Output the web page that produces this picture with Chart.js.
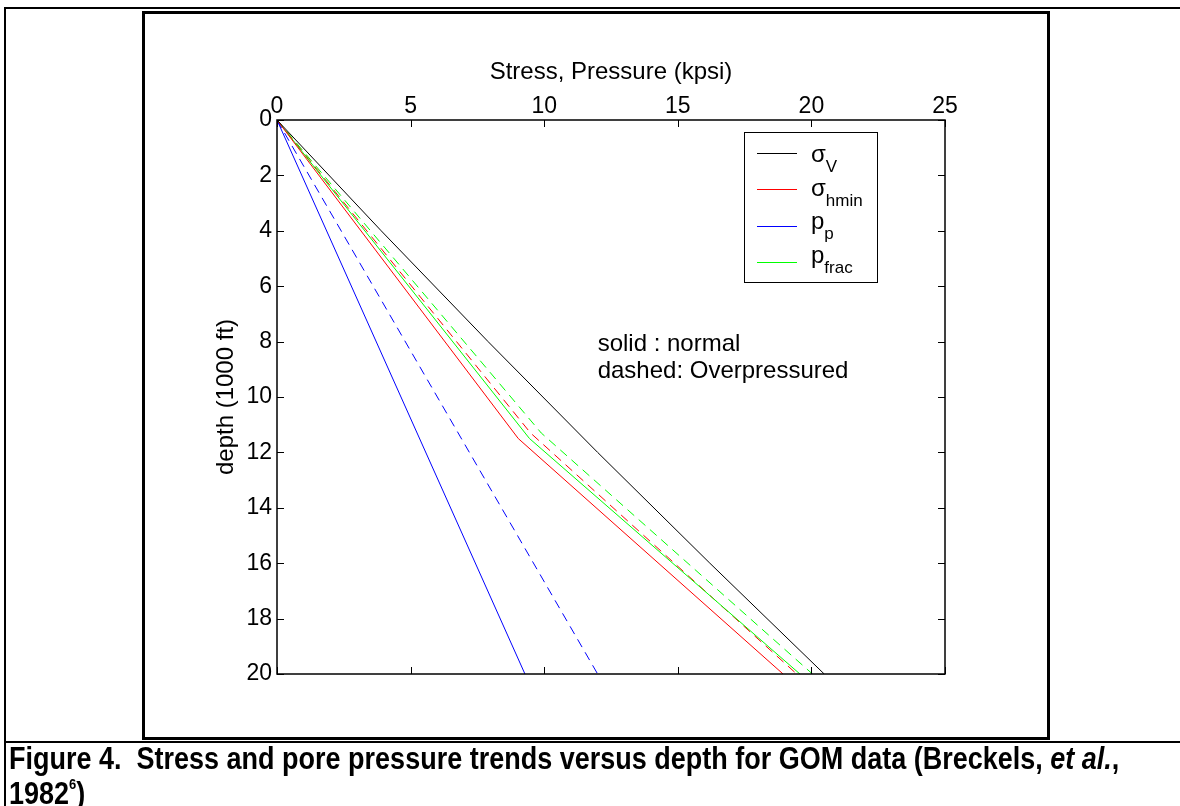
<!DOCTYPE html>
<html>
<head>
<meta charset="utf-8">
<title>Stress and pore pressure trends</title>
<script src="https://cdn.jsdelivr.net/npm/chart.js@4.4.1/dist/chart.umd.min.js"></script>
<style>
  body { margin: 0; background: #fff; font-family: "Liberation Sans", Arial, sans-serif; }
  #page { position: relative; width: 1180px; height: 806px; overflow: hidden; background: #fff; }
  .rule { position: absolute; background: #000; }
  #box { position: absolute; left: 142px; top: 11px; width: 908px; height: 729px; border: 3px solid #000; box-sizing: border-box; }
  #wrap { position: absolute; left: 0; top: 0; width: 1180px; height: 806px; }
  #caption { position: absolute; left: 9px; top: 745px; font-size: 27px; line-height: 25px; font-weight: bold; white-space: nowrap; color: #000; transform: scaleY(1.14); transform-origin: left top; }
  #caption sup { font-size: 13px; position: relative; top: -3px; }
</style>
</head>
<body>
<div id="page">
  <div class="rule" style="left:4px; top:7px; width:2px; height:799px;"></div>
  <div class="rule" style="left:4px; top:7px; width:1176px; height:2px;"></div>
  <div class="rule" style="left:4px; top:741px; width:1176px; height:2px;"></div>
  <div id="box"></div>
  <div id="wrap"><canvas id="chart"></canvas></div>
  <div id="caption">Figure 4.&nbsp; Stress and pore pressure trends versus depth for GOM data (Breckels, <i>et al.</i>,<br>1982<sup>6</sup>)</div>
</div>
<script>
// depth in 1000 ft, stress / pressure in kpsi
const svDepth = [0, 4, 8, 12, 16, 20];
const svStress = [0, 3.9, 7.9, 12.0, 16.2, 20.48];

// solid: normal
const shminNormalDepth = [0, 11.5, 20];
const shminNormal = [0, 9.03, 18.94];
const ppNormalDepth = [0, 20];
const ppNormal = [0, 9.28];
const pfracNormalDepth = [0, 11.5, 20];
const pfracNormal = [0, 9.45, 19.57];

// dashed: overpressured
const shminOverDepth = [0, 11.3, 20];
const shminOver = [0, 9.49, 19.45];
const ppOverDepth = [0, 20];
const ppOver = [0, 12.0];
const pfracOverDepth = [0, 11.3, 20];
const pfracOver = [0, 9.89, 20.04];

const legendSymbols = ['σ', 'σ', 'p', 'p'];
const legendSubs = ['V', 'hmin', 'p', 'frac'];
const noteLines = ['solid : normal', 'dashed: Overpressured'];

const BLACK = '#000000', RED = '#ff0000', BLUE = '#0000ff', GREEN = '#00ff00';
const FONT = '"Liberation Sans", Arial, sans-serif';
const TICK = 7;

function pts(xs, ys) {
    return xs.map((v, i) => ({ x: v, y: ys[i] }));
}

function line(label, xs, ys, color, dashed) {
    return {
        label: label,
        data: pts(xs, ys),
        borderColor: color,
        backgroundColor: color,
        borderWidth: 1,
        borderDash: dashed ? [9, 6] : [],
        pointRadius: 0,
        showLine: true,
        fill: false
    };
}

// inward ticks on all four sides, the axes box, legend and notes
const decorations = {
    id: 'decorations',
    afterDraw(chart) {
        const { ctx, chartArea: a, scales: { x, y } } = chart;
        ctx.save();
        ctx.strokeStyle = '#000';
        ctx.lineWidth = 1;
        ctx.beginPath();
        x.ticks.forEach(t => {
            const px = Math.round(x.getPixelForValue(t.value)) + 0.5;
            ctx.moveTo(px, a.top); ctx.lineTo(px, a.top + TICK);
            ctx.moveTo(px, a.bottom); ctx.lineTo(px, a.bottom - TICK);
        });
        y.ticks.forEach(t => {
            const py = Math.round(y.getPixelForValue(t.value)) + 0.5;
            ctx.moveTo(a.left, py); ctx.lineTo(a.left + TICK, py);
            ctx.moveTo(a.right, py); ctx.lineTo(a.right - TICK, py);
        });
        ctx.stroke();
        ctx.lineWidth = 1.5;
        ctx.strokeRect(a.left, a.top, a.right - a.left, a.bottom - a.top);

        // legend box
        const lw = 133, lh = 150;
        const lx = a.right - 68 - lw, ly = a.top + 12;
        ctx.fillStyle = '#fff';
        ctx.fillRect(lx, ly, lw, lh);
        ctx.lineWidth = 1;
        ctx.strokeStyle = '#000';
        ctx.strokeRect(lx + 0.5, ly + 0.5, lw, lh);
        const colors = chart.data.datasets.slice(0, 4).map(d => d.borderColor);
        legendSymbols.forEach((s, i) => {
            const rowY = Math.round(ly + 21 + i * 36.3) + 0.5;
            ctx.strokeStyle = colors[i];
            ctx.lineWidth = 1;
            ctx.beginPath();
            ctx.moveTo(lx + 13, rowY);
            ctx.lineTo(lx + 53, rowY);
            ctx.stroke();
            const base = ly + 30 + i * 33.7;
            ctx.fillStyle = '#000';
            ctx.textBaseline = 'alphabetic';
            ctx.textAlign = 'left';
            ctx.font = '24px ' + FONT;
            ctx.fillText(s, lx + 67, base);
            const w = ctx.measureText(s).width;
            ctx.font = '17px ' + FONT;
            ctx.fillText(legendSubs[i], lx + 67 + w, base + 10);
        });

        // notes
        ctx.font = '24px ' + FONT;
        ctx.fillStyle = '#000';
        noteLines.forEach((t, i) => {
            ctx.fillText(t, x.getPixelForValue(12), y.getPixelForValue(8.34 + i * 0.97));
        });
        ctx.restore();
    }
};

new Chart(document.getElementById('chart'), {
    type: 'scatter',
    data: {
        datasets: [
            line('σV', svStress, svDepth, BLACK, false),
            line('σhmin', shminNormal, shminNormalDepth, RED, false),
            line('pp', ppNormal, ppNormalDepth, BLUE, false),
            line('pfrac', pfracNormal, pfracNormalDepth, GREEN, false),
            line('σhmin over', shminOver, shminOverDepth, RED, true),
            line('pp over', ppOver, ppOverDepth, BLUE, true),
            line('pfrac over', pfracOver, pfracOverDepth, GREEN, true)
        ]
    },
    options: {
        responsive: true,
        maintainAspectRatio: false,
        animation: false,
        events: [],
        layout: { padding: { left: 150, top: 20, right: 235, bottom: 132 } },
        plugins: { legend: { display: false }, tooltip: { enabled: false } },
        scales: {
            x: {
                type: 'linear',
                position: 'top',
                min: 0,
                max: 25,
                afterFit: s => { s.height = 100; },
                grid: { display: false, drawTicks: false },
                border: { display: false },
                ticks: { stepSize: 5, padding: 0, color: '#000', font: { size: 23, family: FONT } },
                title: { display: true, text: 'Stress, Pressure (kpsi)', color: '#000', padding: { top: 38, bottom: 0 }, font: { size: 24, family: FONT } }
            },
            y: {
                type: 'linear',
                position: 'left',
                reverse: true,
                min: 0,
                max: 20,
                afterFit: s => { s.width = 127; },
                grid: { display: false, drawTicks: false },
                border: { display: false },
                ticks: { stepSize: 2, padding: 5, color: '#000', font: { size: 23, family: FONT } },
                title: { display: true, text: 'depth (1000 ft)', color: '#000', padding: { top: 62, bottom: 0 }, font: { size: 24, family: FONT } }
            }
        }
    },
    plugins: [decorations]
});
</script>
</body>
</html>
